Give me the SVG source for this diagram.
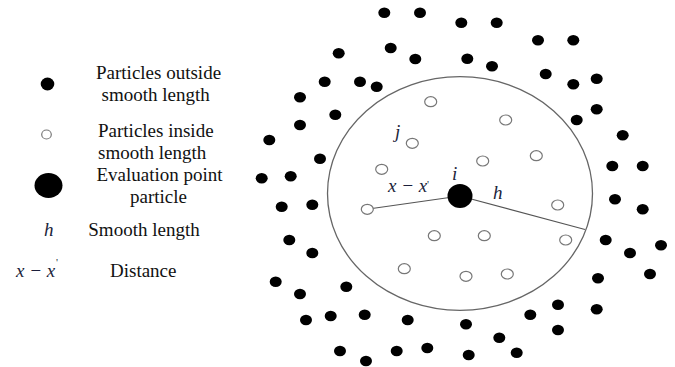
<svg xmlns="http://www.w3.org/2000/svg" xmlns:xlink="http://www.w3.org/1999/xlink" width="675" height="367" viewBox="0 0 675 367">
<style>
.out{fill:#000}
.in{fill:#fff;stroke:#777;stroke-width:1.2}
.lbl{font-family:"Liberation Serif","Times New Roman",serif;font-size:19px;fill:#111}
.math{font-family:"Liberation Serif","Times New Roman",serif;font-style:italic;font-size:19px;fill:#1b1f3b}
.prime{font-family:"Liberation Serif","Times New Roman",serif;font-size:11px;fill:#1b1f3b}
.conn{stroke:#555;stroke-width:1.2;fill:none}
</style>
<defs>
<ellipse id="bd" class="out" rx="6" ry="5.3"/>
<ellipse id="od" class="in" rx="6" ry="5"/>
</defs>
<rect width="675" height="367" fill="#fff"/>
<g id="legend">
<g id="leg-outside"><ellipse cx="47.5" cy="84" rx="6.8" ry="6.5" class="out"/><text class="lbl" x="96" y="79">Particles outside</text><text class="lbl" x="101.5" y="100.5">smooth length</text></g>
<g id="leg-inside"><ellipse cx="46.5" cy="134.5" rx="4.8" ry="4.5" class="in"/><text class="lbl" x="98" y="136.5">Particles inside</text><text class="lbl" x="98" y="158.5">smooth length</text></g>
<g id="leg-eval"><ellipse cx="48.5" cy="185.5" rx="14" ry="12.5" class="out"/><text class="lbl" x="96.5" y="181">Evaluation point</text><text class="lbl" x="130" y="202.5">particle</text></g>
<g id="leg-h"><text class="math" x="44" y="235.5">h</text><text class="lbl" x="88.3" y="235.5">Smooth length</text></g>
<g id="leg-dist"><text class="math" x="16" y="277" xml:space="preserve">x − x</text><text class="prime" x="56" y="266">'</text><text class="lbl" x="110" y="277">Distance</text></g>
</g>
<g id="support-domain"><ellipse cx="460" cy="193.5" rx="132.5" ry="116.8" fill="none" stroke="#666" stroke-width="1.3"/></g>
<g id="connectors">
<line class="conn" x1="460" y1="196" x2="372" y2="208.5"/>
<line class="conn" x1="460" y1="196" x2="585" y2="229.5"/>
</g>
<g id="outside-particles">
<use xlink:href="#bd" x="384.3" y="12.7"/><use xlink:href="#bd" x="420" y="12.7"/><use xlink:href="#bd" x="461.3" y="22.7"/><use xlink:href="#bd" x="496.7" y="22.7"/><use xlink:href="#bd" x="538" y="40.3"/><use xlink:href="#bd" x="573.3" y="40.3"/><use xlink:href="#bd" x="338.7" y="53.3"/><use xlink:href="#bd" x="390.7" y="48"/><use xlink:href="#bd" x="415.3" y="59"/><use xlink:href="#bd" x="467.3" y="58.7"/><use xlink:href="#bd" x="492" y="66.3"/><use xlink:href="#bd" x="545.7" y="74"/><use xlink:href="#bd" x="573.3" y="84.3"/><use xlink:href="#bd" x="596.7" y="78.7"/><use xlink:href="#bd" x="324.7" y="81.7"/><use xlink:href="#bd" x="360" y="81.7"/><use xlink:href="#bd" x="376.7" y="86.7"/><use xlink:href="#bd" x="300" y="97.3"/><use xlink:href="#bd" x="335.3" y="114.7"/><use xlink:href="#bd" x="300" y="125"/><use xlink:href="#bd" x="576.7" y="120"/><use xlink:href="#bd" x="596.7" y="109.3"/><use xlink:href="#bd" x="622.7" y="135.3"/><use xlink:href="#bd" x="269.3" y="140"/><use xlink:href="#bd" x="320" y="158.7"/><use xlink:href="#bd" x="612.3" y="166"/><use xlink:href="#bd" x="642.7" y="166"/><use xlink:href="#bd" x="261.7" y="178.3"/><use xlink:href="#bd" x="290.7" y="176.3"/>
<use xlink:href="#bd" x="281.7" y="206.7"/><use xlink:href="#bd" x="312.3" y="204.7"/><use xlink:href="#bd" x="615" y="199.3"/><use xlink:href="#bd" x="642.7" y="209.3"/><use xlink:href="#bd" x="289.3" y="240"/><use xlink:href="#bd" x="312.3" y="253"/><use xlink:href="#bd" x="605.7" y="240"/><use xlink:href="#bd" x="630" y="253"/><use xlink:href="#bd" x="661" y="245.3"/><use xlink:href="#bd" x="275.7" y="281.7"/><use xlink:href="#bd" x="300" y="294"/><use xlink:href="#bd" x="346.3" y="286.7"/><use xlink:href="#bd" x="598" y="278.3"/><use xlink:href="#bd" x="650" y="274"/><use xlink:href="#bd" x="306" y="320"/><use xlink:href="#bd" x="330.7" y="316"/><use xlink:href="#bd" x="364.7" y="314.7"/><use xlink:href="#bd" x="407.7" y="320"/><use xlink:href="#bd" x="466" y="324.3"/><use xlink:href="#bd" x="530.3" y="314.7"/><use xlink:href="#bd" x="558" y="304.7"/><use xlink:href="#bd" x="596.7" y="309.3"/><use xlink:href="#bd" x="499.3" y="337.7"/><use xlink:href="#bd" x="558" y="330"/><use xlink:href="#bd" x="340" y="351"/><use xlink:href="#bd" x="366" y="361"/><use xlink:href="#bd" x="396.7" y="351"/><use xlink:href="#bd" x="427.3" y="348"/><use xlink:href="#bd" x="468.7" y="355"/><use xlink:href="#bd" x="516.7" y="352.7"/>
</g>
<g id="inside-particles">
<use xlink:href="#od" x="430.7" y="101.7"/><use xlink:href="#od" x="505.7" y="120"/><use xlink:href="#od" x="412.3" y="143.3"/><use xlink:href="#od" x="482.7" y="161"/><use xlink:href="#od" x="536.3" y="155.7"/><use xlink:href="#od" x="381.7" y="169.3"/><use xlink:href="#od" x="367.3" y="209.3"/><use xlink:href="#od" x="557.7" y="205"/><use xlink:href="#od" x="434.3" y="235.7"/><use xlink:href="#od" x="484.3" y="235.7"/><use xlink:href="#od" x="565.7" y="240"/><use xlink:href="#od" x="404.3" y="268.7"/><use xlink:href="#od" x="466" y="276.3"/><use xlink:href="#od" x="507.3" y="274"/>
</g>
<g id="eval-point"><ellipse cx="460" cy="196" rx="12.5" ry="12" class="out"/><text class="math" x="452" y="179.5">i</text></g>
<g id="labels">
<text class="math" x="395" y="137.5">j</text>
<text class="math" x="388" y="191.5" xml:space="preserve">x − x</text>
<text class="prime" x="427" y="187.5">'</text>
<text class="math" x="493" y="199">h</text>
</g>
</svg>
